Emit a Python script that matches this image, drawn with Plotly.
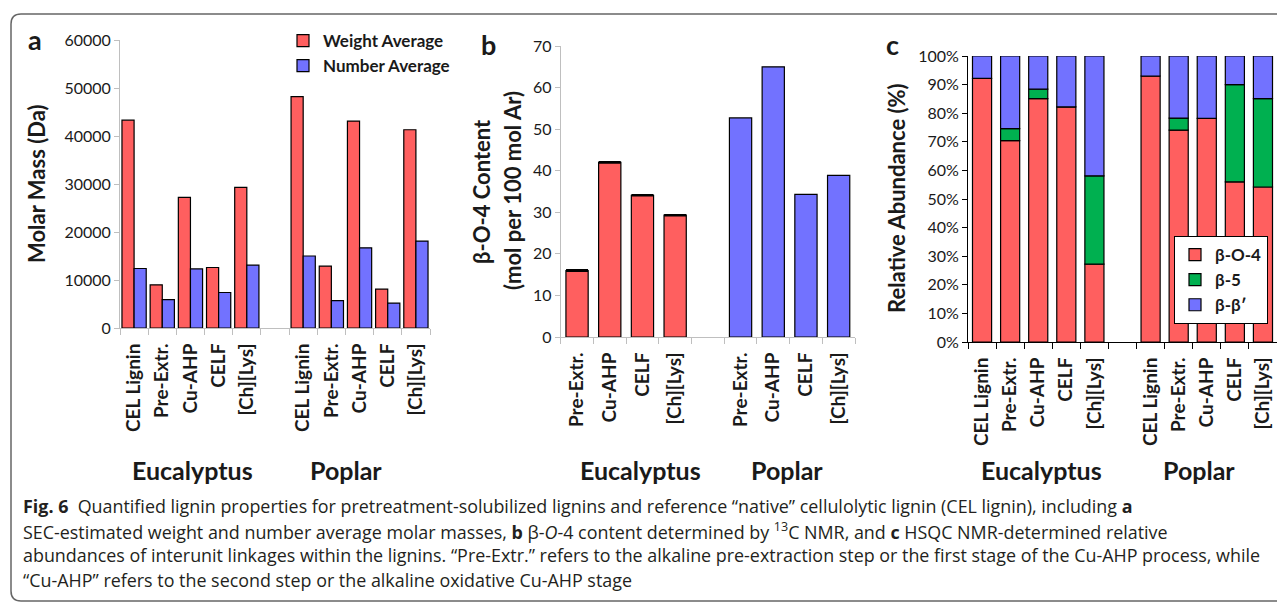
import plotly.graph_objects as go

# the page body has an 8px default margin; map reference pixels into the figure
OFF = 8
W, H = 1285 - OFF, 605 - OFF

# ---------------- data ----------------
labels_a = ["CEL Lignin", "Pre-Extr.", "Cu-AHP", "CELF", "[Ch][Lys]"]
labels_b = ["Pre-Extr.", "Cu-AHP", "CELF", "[Ch][Lys]"]
groups = ["Eucalyptus", "Poplar"]

weight_avg_euc = [43300, 9000, 27200, 12600, 29300]
weight_avg_pop = [48200, 12900, 43100, 8100, 41300]
number_avg_euc = [12400, 5900, 12300, 7400, 13100]
number_avg_pop = [15000, 5700, 16700, 5200, 18100]

bo4_content_euc = [16.0, 42.0, 34.1, 29.3]
bo4_content_euc_err = [0.2, 0.2, 0.15, 0.15]
bo4_content_pop = [52.7, 65.0, 34.3, 38.9]

bo4_euc = [92.2, 70.4, 85.1, 82.2, 27.2]
b5_euc = [0.0, 4.2, 3.3, 0.0, 30.9]
bb_euc = [7.8, 25.4, 11.6, 17.8, 41.9]
bo4_pop = [93.0, 74.1, 78.2, 56.0, 54.2]
b5_pop = [0.0, 4.2, 0.0, 34.0, 30.9]
bb_pop = [7.0, 21.7, 21.8, 10.0, 14.9]

RED = "#FF5F5F"
BLUE = "#7272FF"
GREEN = "#00B050"
FONT = "Lato"
CAPFONT = "Open Sans"
TXT = "#1a1a1a"


def X(px):
    return (px - OFF) / W


def Y(py):
    return 1 - (py - OFF) / H


# category positions: group 1, a blank slot, group 2
xa = list(range(len(labels_a))) + [i + len(labels_a) + 1 for i in range(len(labels_a))]
xb_e = list(range(len(labels_b)))
xb_p = [i + len(labels_b) + 1 for i in range(len(labels_b))]

fig = go.Figure()
line = dict(color="black", width=1.2)

# ---- panel a ----
fig.add_trace(go.Bar(x=xa, y=weight_avg_euc + weight_avg_pop, name="Weight Average",
                     marker=dict(color=RED, line=line), width=0.43, offset=-0.43,
                     xaxis="x", yaxis="y", legend="legend", legendgroup="w"))
fig.add_trace(go.Bar(x=xa, y=number_avg_euc + number_avg_pop, name="Number Average",
                     marker=dict(color=BLUE, line=line), width=0.43, offset=0.0,
                     xaxis="x", yaxis="y", legend="legend", legendgroup="n"))

# ---- panel b ----
fig.add_trace(go.Bar(x=xb_e, y=bo4_content_euc, name="Eucalyptus", showlegend=False,
                     marker=dict(color=RED, line=line), width=0.68, offset=-0.34,
                     error_y=dict(type="data", array=bo4_content_euc_err, color="black",
                                  thickness=1.2, width=11),
                     xaxis="x2", yaxis="y2"))
fig.add_trace(go.Bar(x=xb_p, y=bo4_content_pop, name="Poplar", showlegend=False,
                     marker=dict(color=BLUE, line=line), width=0.68, offset=-0.34,
                     xaxis="x2", yaxis="y2"))

# ---- panel c (stacked via base) ----
bo4 = bo4_euc + bo4_pop
b5 = b5_euc + b5_pop
bb = bb_euc + bb_pop
base_b5 = list(bo4)
base_bb = [p + q for p, q in zip(bo4, b5)]
fig.add_trace(go.Bar(x=xa, y=bo4, name="β-O-4", marker=dict(color=RED, line=line),
                     width=0.68, offset=-0.34, xaxis="x3", yaxis="y3",
                     legend="legend2", legendgroup="c1"))
fig.add_trace(go.Bar(x=xa, y=b5, base=base_b5, name="β-5", marker=dict(color=GREEN, line=line),
                     width=0.68, offset=-0.34, xaxis="x3", yaxis="y3",
                     legend="legend2", legendgroup="c2"))
fig.add_trace(go.Bar(x=xa, y=bb, base=base_bb, name="β-β′", marker=dict(color=BLUE, line=line),
                     width=0.68, offset=-0.34, xaxis="x3", yaxis="y3",
                     legend="legend2", legendgroup="c3"))

tickfont = dict(family=FONT, size=16, color=TXT)
catfont = dict(family=FONT, size=19, color=TXT, weight=700)


def xaxis(dom, n, col):
    return dict(domain=[X(dom[0]), X(dom[1])], range=[-0.5, n - 0.5],
                tickmode="array", tickvals=xa if n == 11 else xb_e + xb_p,
                ticktext=labels_a * 2 if n == 11 else labels_b * 2,
                tickangle=-90, ticks="", tickfont=catfont, ticklabelstandoff=7,
                showline=True, linecolor=col, linewidth=1, showgrid=False, zeroline=False,
                automargin=False,
                minor=dict(tickmode="array", tickvals=[i - 0.5 for i in range(n + 1)],
                           ticks="outside", ticklen=6, tickcolor=col, tickwidth=1),
                fixedrange=True)


def yaxis(dom, rng, dtick, col, **kw):
    d = dict(domain=[Y(dom[1]), Y(dom[0])], range=rng, dtick=dtick, tick0=0,
             showline=True, linecolor=col, linewidth=1, ticks="outside", ticklen=5,
             tickcolor=col, tickfont=tickfont, showgrid=False, zeroline=False,
             automargin=False, fixedrange=True)
    d.update(kw)
    return d


fig.update_layout(
    width=W, height=H, margin=dict(l=0, r=0, t=0, b=0, pad=0, autoexpand=False),
    paper_bgcolor="white", plot_bgcolor="rgba(0,0,0,0)",
    barmode="overlay",
    xaxis=dict(xaxis((120, 430), 11, "#BFBFBF"), anchor="y"),
    yaxis=yaxis((40, 328), [0, 60000], 10000, "#BFBFBF", tickformat="d", anchor="x"),
    xaxis2=dict(xaxis((560.7, 855), 9, "#BFBFBF"), anchor="y2"),
    yaxis2=yaxis((46, 337), [0, 70], 10, "#BFBFBF", anchor="x2"),
    xaxis3=dict(xaxis((968, 1277), 11, "black"), anchor="y3"),
    yaxis3=yaxis((56, 342), [0, 100], 10, "black", ticksuffix="%", anchor="x3"),
    legend=dict(x=X(283), y=Y(23), xanchor="left", yanchor="top",
                bgcolor="rgba(0,0,0,0)", borderwidth=0, tracegroupgap=4,
                font=dict(family=FONT, size=17, color=TXT, weight=700), traceorder="normal"),
    legend2=dict(x=X(1268), y=Y(236), xanchor="right", yanchor="top",
                 bgcolor="white", bordercolor="black", borderwidth=1, tracegroupgap=12,
                 font=dict(family=FONT, size=17, color=TXT, weight=700), traceorder="normal"),
)

ann = []


def text(px, py, s, size, bold=True, angle=0, xanchor="center", color=TXT, family=FONT):
    ann.append(dict(x=X(px), y=Y(py), xref="paper", yref="paper", text=s, showarrow=False,
                    textangle=angle, xanchor=xanchor, yanchor="middle",
                    font=dict(family=family, size=size, color=color, weight=700 if bold else 400)))


# panel letters
text(35, 40, "a", 27)
text(488, 44, "b", 27)
text(892, 45, "c", 27)

# y-axis titles
text(36, 184, "Molar Mass (Da)", 22, angle=-90)
text(482, 192, "β-O-4 Content", 22, angle=-90)
text(512, 191, "(mol per 100 mol Ar)", 22, angle=-90)
text(897, 198, "Relative Abundance (%)", 22, angle=-90)

# group labels
for gx, gl in zip([192, 346, 640, 787, 1041, 1199], groups * 3):
    text(gx, 470, gl, 25)

# caption
cap = [
    "<b>Fig. 6</b>  Quantified lignin properties for pretreatment-solubilized lignins and reference “native” cellulolytic lignin (CEL lignin), including <b>a</b>",
    "SEC-estimated weight and number average molar masses, <b>b</b> β-<i>O</i>-4 content determined by <sup>13</sup>C NMR, and <b>c</b> HSQC NMR-determined relative",
    "abundances of interunit linkages within the lignins. “Pre-Extr.” refers to the alkaline pre-extraction step or the first stage of the Cu-AHP process, while",
    "“Cu-AHP” refers to the second step or the alkaline oxidative Cu-AHP stage",
]
for i, c in enumerate(cap):
    text(21, 506 + i * 24.5, c, 17.9, bold=False, xanchor="left", color="#231f20", family=CAPFONT)

fig.update_layout(annotations=ann)

# rounded frame around the figure
r = 10
x0, x1, y0, y1 = 11, 1300, 14, 601
path = (f"M {X(x0)},{Y(y0 + r)} Q {X(x0)},{Y(y0)} {X(x0 + r)},{Y(y0)} "
        f"L {X(x1)},{Y(y0)} L {X(x1)},{Y(y1)} L {X(x0 + r)},{Y(y1)} "
        f"Q {X(x0)},{Y(y1)} {X(x0)},{Y(y1 - r)} Z")
fig.add_shape(type="path", path=path, xref="paper", yref="paper",
              line=dict(color="#666666", width=1.5), fillcolor="rgba(0,0,0,0)", layer="below")

fig.write_html("out.html")
